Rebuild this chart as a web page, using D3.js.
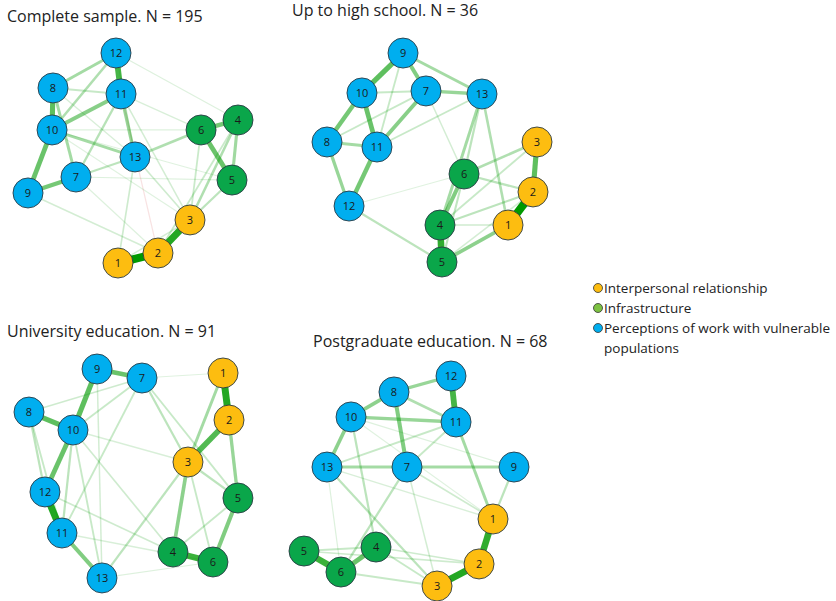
<!DOCTYPE html>
<html>
<head>
<meta charset="utf-8">
<script src="https://cdn.jsdelivr.net/npm/d3@7"></script>
<style>
  body { margin: 0; background: #fff; }
  text { font-family: "Open Sans", "Noto Sans", sans-serif; }
</style>
</head>
<body>
<svg id="chart" width="836" height="601"></svg>
<script>
// groups of the 13 items
const groups = ["Interpersonal relationship", "Infrastructure", "Perceptions of work with vulnerable populations"];
const nodeGroup = [0, 0, 0, 1, 1, 1, 2, 2, 2, 2, 2, 2, 2];   // item 1..13
const groupColors = ["#fdbd10", "#0aa64a", "#00aeef"];
const legendColors = ["#fdbd10", "#7dc242", "#00aeef"];

const titles = [
  "Complete sample. N = 195",
  "Up to high school. N = 36",
  "University education. N = 91",
  "Postgraduate education. N = 68"
];

// layouts (qgraph style, -1..1), items 1..13
const layoutComplete = [
  [-0.143, -1.0], [0.238, -0.905], [0.543, -0.590], [1.0, 0.362], [0.943, -0.210],
  [0.648, 0.267], [-0.543, -0.181], [-0.762, 0.667], [-1.0, -0.333], [-0.771, 0.267],
  [-0.114, 0.610], [-0.162, 1.0], [0.019, 0.010]
];
const layoutHighSchool = [
  [0.724, -0.648], [0.962, -0.333], [1.0, 0.143], [0.076, -0.648], [0.095, -1.0],
  [0.305, -0.162], [-0.057, 0.629], [-1.0, 0.143], [-0.276, 0.990], [-0.667, 0.610],
  [-0.524, 0.095], [-0.790, -0.467], [0.476, 0.600]
];
const layoutUniversity = [
  [0.848, 0.962], [0.905, 0.514], [0.514, 0.114], [0.371, -0.743], [0.990, -0.229],
  [0.752, -0.838], [0.076, 0.914], [-1.0, 0.590], [-0.352, 1.0], [-0.581, 0.419],
  [-0.686, -0.562], [-0.848, -0.171], [-0.305, -0.990]
];
const layoutPostgrad = [
  [0.8, -0.362], [0.667, -0.790], [0.267, -1.0], [-0.314, -0.629], [-1.0, -0.667],
  [-0.648, -0.867], [-0.019, 0.133], [-0.143, 0.848], [1.0, 0.133], [-0.552, 0.610],
  [0.448, 0.562], [0.4, 1.0], [-0.781, 0.133]
];

// edges: [from, to, weight]
const edgesComplete = [
  [1, 2, 1.0], [2, 3, 0.85], [12, 11, 0.7], [8, 10, 0.6], [10, 9, 0.55], [9, 7, 0.5],
  [6, 5, 0.55], [6, 4, 0.5], [4, 5, 0.32], [10, 11, 0.42], [8, 12, 0.3], [12, 10, 0.25],
  [11, 13, 0.35], [10, 13, 0.3], [8, 7, 0.3], [8, 11, 0.15], [11, 7, 0.22], [13, 6, 0.25],
  [7, 13, 0.2], [4, 3, 0.25], [5, 3, 0.2], [6, 3, 0.14], [4, 2, 0.14], [13, 1, 0.12],
  [13, 3, 0.12], [11, 3, 0.1], [9, 2, 0.1], [12, 4, 0.06], [11, 6, 0.08], [10, 6, 0.06],
  [7, 5, 0.06], [10, 5, 0.05], [1, 3, 0.1], [7, 2, 0.06], [8, 13, 0.08], [11, 2, -0.06],
  [12, 13, 0.06], [10, 3, 0.05]
];
const edgesHighSchool = [
  [1, 2, 1.0], [4, 5, 0.8], [2, 3, 0.6], [9, 10, 0.6], [10, 11, 0.55], [11, 12, 0.5],
  [10, 8, 0.5], [9, 7, 0.45], [7, 11, 0.42], [1, 5, 0.4], [6, 4, 0.45], [8, 12, 0.35],
  [13, 4, 0.3], [13, 6, 0.2], [13, 1, 0.25], [9, 13, 0.3], [7, 13, 0.35], [8, 11, 0.3],
  [10, 7, 0.15], [8, 7, 0.15], [11, 13, 0.15], [9, 11, 0.15], [6, 3, 0.25], [6, 2, 0.2],
  [4, 3, 0.15], [4, 2, 0.2], [4, 1, 0.12], [12, 5, 0.2], [7, 6, 0.1], [12, 6, 0.05],
  [5, 2, 0.1], [6, 5, 0.18]
];
const edgesUniversity = [
  [1, 2, 0.85], [12, 11, 0.85], [4, 6, 0.75], [2, 3, 0.65], [9, 10, 0.6], [8, 10, 0.6],
  [9, 7, 0.55], [10, 12, 0.55], [11, 13, 0.45], [5, 6, 0.45], [3, 4, 0.4], [2, 5, 0.35],
  [1, 3, 0.3], [8, 12, 0.2], [8, 11, 0.15], [10, 11, 0.2], [10, 13, 0.15], [7, 10, 0.15],
  [7, 11, 0.15], [8, 7, 0.12], [7, 3, 0.2], [7, 5, 0.15], [3, 5, 0.2], [3, 13, 0.2],
  [3, 6, 0.15], [5, 4, 0.15], [12, 4, 0.12], [10, 4, 0.12], [11, 6, 0.08], [13, 6, 0.06],
  [10, 3, 0.08], [7, 1, 0.05], [9, 13, 0.1]
];
const edgesPostgrad = [
  [2, 3, 0.85], [1, 2, 0.8], [5, 6, 0.75], [12, 11, 0.7], [6, 4, 0.55], [8, 7, 0.45],
  [10, 13, 0.4], [8, 10, 0.4], [8, 12, 0.35], [10, 11, 0.35], [7, 13, 0.3], [7, 9, 0.3],
  [11, 1, 0.3], [8, 11, 0.25], [9, 1, 0.2], [7, 6, 0.2], [10, 4, 0.2], [13, 3, 0.2],
  [11, 13, 0.15], [11, 7, 0.15], [5, 4, 0.15], [6, 3, 0.15], [5, 2, 0.12], [4, 3, 0.15],
  [4, 2, 0.12], [7, 1, 0.12], [7, 3, 0.1], [13, 1, 0.08], [10, 9, 0.06], [13, 6, 0.06],
  [10, 1, 0.05]
];

const panels = [
  { title: titles[0], layout: layoutComplete, edges: edgesComplete, left: 28, top: 53, tx: 7, ty: 22 },
  { title: titles[1], layout: layoutHighSchool, edges: edgesHighSchool, left: 327, top: 52, tx: 292, ty: 16 },
  { title: titles[2], layout: layoutUniversity, edges: edgesUniversity, left: 29, top: 369, tx: 7, ty: 337 },
  { title: titles[3], layout: layoutPostgrad, edges: edgesPostgrad, left: 304, top: 376, tx: 313, ty: 347 }
];

const span = 210, nodeR = 15;
const svg = d3.select("#chart");

const widthScale = d3.scaleLinear().domain([0, 1]).range([0.8, 8]);
const opacityScale = d3.scaleLinear().domain([0, 1]).range([0.08, 1]).clamp(true);

panels.forEach(p => {
  const x = d3.scaleLinear().domain([-1, 1]).range([p.left, p.left + span]);
  const y = d3.scaleLinear().domain([-1, 1]).range([p.top + span, p.top]);
  const g = svg.append("g");

  g.append("text")
    .attr("x", p.tx)
    .attr("y", p.ty)
    .style("font-size", "16px")
    .attr("fill", "#222")
    .text(p.title);

  // weakest edges first so strong ones sit on top
  const edges = p.edges.slice().sort((a, b) => Math.abs(a[2]) - Math.abs(b[2]));
  g.append("g")
    .selectAll("line")
    .data(edges)
    .enter()
    .append("line")
    .attr("x1", e => x(p.layout[e[0] - 1][0]))
    .attr("y1", e => y(p.layout[e[0] - 1][1]))
    .attr("x2", e => x(p.layout[e[1] - 1][0]))
    .attr("y2", e => y(p.layout[e[1] - 1][1]))
    .attr("stroke", e => e[2] < 0 ? "#cc2222" : "#009900")
    .attr("stroke-opacity", e => opacityScale(Math.abs(e[2])))
    .attr("stroke-width", e => widthScale(Math.abs(e[2])));

  const node = g.append("g")
    .selectAll("g")
    .data(p.layout)
    .enter()
    .append("g")
    .attr("transform", (d, i) => "translate(" + x(d[0]) + "," + y(d[1]) + ")");
  node.append("circle")
    .attr("r", nodeR)
    .attr("fill", (d, i) => groupColors[nodeGroup[i]])
    .attr("stroke", "#2a3a44")
    .attr("stroke-width", 0.9);
  node.append("text")
    .attr("text-anchor", "middle")
    .attr("dy", "0.35em")
    .style("font-size", "11px")
    .attr("fill", "#1a1a1a")
    .text((d, i) => i + 1);
});

// legend
const legend = svg.append("g").attr("transform", "translate(598,288)");
const item = legend.selectAll("g")
  .data(groups)
  .enter()
  .append("g")
  .attr("transform", (d, i) => "translate(0," + i * 20 + ")");
item.append("circle")
  .attr("r", 4.5)
  .attr("fill", (d, i) => legendColors[i])
  .attr("stroke", "#333")
  .attr("stroke-width", 0.8);
item.append("text")
  .attr("x", 6)
  .attr("dy", "0.35em")
  .style("font-size", "13.5px")
  .attr("fill", "#222")
  .each(function (d) {
    // wrap the long label on two lines like the original
    const t = d3.select(this);
    if (d.length > 30) {
      const cut = d.lastIndexOf(" ");
      t.append("tspan").attr("x", 6).text(d.slice(0, cut));
      t.append("tspan").attr("x", 6).attr("dy", "1.48em").text(d.slice(cut + 1));
    } else {
      t.text(d);
    }
  });
</script>
</body>
</html>
